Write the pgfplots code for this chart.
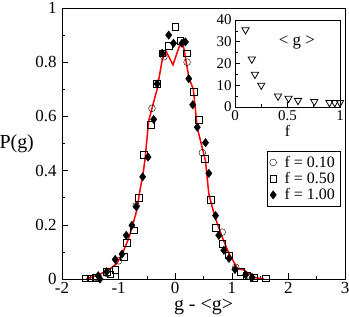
\documentclass[border=0pt]{standalone}
\usepackage{fontspec}
\setmainfont{Liberation Serif}
\usepackage{pgfplots}
\pgfplotsset{compat=1.18}
\begin{document}
\begin{tikzpicture}
\begin{axis}[name=main, scale only axis, width=283bp, height=271bp,
  xmin=-2, xmax=3, ymin=0, ymax=1,
  xtick={-2,-1,0,1,2,3}, minor x tick num=1,
  ytick={0,0.2,0.4,0.6,0.8,1}, minor y tick num=1,
  tick pos=left, tick align=inside,
  major tick length=6bp, minor tick length=3bp,
  axis line style={line width=0.6pt},
  tick style={black, line width=0.6pt},
  /pgf/number format/assume math mode=true,
  ticklabel style={font=\fontsize{17}{19}\selectfont},
  yticklabel style={xshift=-2bp},
  xticklabel style={yshift=0bp},
  xlabel={g - <g>}, ylabel={P(g)},
  label style={font=\fontsize{20}{22}\selectfont},
  ylabel style={rotate=-90, at={(axis description cs:-0.16,0.498)}, anchor=center},
  xlabel style={at={(axis description cs:0.5,-0.103)}, anchor=center},
  legend style={at={(axis description cs:0.982,0.4725)}, anchor=north east, draw=black,
    font=\fontsize{16}{17}\selectfont, row sep=-0.5pt, column sep=6bp, inner sep=3pt},
  legend cell align=left,
]
\addplot[only marks, mark=o, mark size=3.4bp, black] coordinates {
(-1.4,0.006) (-1.2,0.02) (-1.0,0.067) (-0.69,0.27) (-0.41,0.63) (-0.2,0.82)
(0.21,0.80) (0.48,0.466) (0.83,0.173) (1.07,0.043) (1.3,0.012)
};
\addlegendentry{f = 0.10}
\addplot[only marks, mark=square, mark size=3.4bp, black] coordinates {
(-1.59,0.003) (-1.5,0.003) (-1.41,0.006) (-1.21,0.027) (-1.15,0.018) (-1.06,0.033)
(-0.91,0.082) (-0.85,0.133) (-0.74,0.18) (-0.647,0.30) (-0.55,0.46) (-0.43,0.57)
(-0.32,0.72) (-0.23,0.833) (-0.115,0.86) (0.0,0.93) (0.09,0.88) (0.21,0.833)
(0.33,0.69) (0.42,0.589) (0.52,0.445) (0.624,0.292) (0.713,0.19) (0.83,0.13)
(0.95,0.088) (1.16,0.027) (1.27,0.013) (1.39,0.006) (1.6,0.003)
};
\addlegendentry{f = 0.50}
\addplot[only marks, mark=diamond*, mark size=4.2bp, black] coordinates {
(-1.36,0.012) (-1.33,0.0) (-1.21,0.027) (-1.06,0.072) (-0.94,0.092) (-0.865,0.161)
(-0.765,0.198) (-0.688,0.267) (-0.575,0.377) (-0.48,0.45) (-0.38,0.589) (-0.32,0.72)
(-0.23,0.833) (-0.115,0.9) (-0.03,0.87) (0.12,0.87) (0.18,0.875) (0.24,0.739)
(0.31,0.643) (0.39,0.56) (0.535,0.503) (0.594,0.39) (0.713,0.234) (0.77,0.161)
(0.86,0.106) (0.95,0.076) (1.055,0.035) (1.245,0.015) (1.36,0.006)
};
\addlegendentry{f = 1.00}
\addplot[forget plot, red, line width=1.5bp] coordinates {
(-1.57,0.0) (-1.45,0.008) (-1.33,0.018) (-1.2,0.03) (-1.03,0.057) (-0.92,0.1)
(-0.82,0.151) (-0.75,0.2) (-0.68,0.253) (-0.62,0.33) (-0.56,0.40) (-0.53,0.448)
(-0.47,0.582) (-0.41,0.63) (-0.32,0.70) (-0.23,0.808) (-0.16,0.84) (-0.04,0.79)
(0.08,0.863) (0.15,0.855) (0.24,0.745) (0.32,0.70) (0.39,0.558) (0.535,0.436)
(0.594,0.314) (0.7,0.23) (0.83,0.155) (0.95,0.094) (1.1,0.039) (1.214,0.033)
(1.39,0.006) (1.57,0.0)
};
\end{axis}
\begin{axis}[at={(main.south west)}, anchor=south west, xshift=173bp, yshift=172bp,
  scale only axis, width=105bp, height=87bp,
  xmin=0, xmax=1, ymin=0, ymax=40,
  xtick={0,0.5,1}, ytick={0,10,20,30,40},
  minor x tick num=1, minor y tick num=1,
  tick pos=left, tick align=inside,
  major tick length=5bp, minor tick length=2.5bp,
  axis line style={line width=0.6pt},
  tick style={black, line width=0.6pt},
  axis background/.style={fill=white},
  /pgf/number format/assume math mode=true,
  ticklabel style={font=\fontsize{15}{16}\selectfont},
  xlabel={f},
  xlabel style={font=\fontsize{16}{17}\selectfont, at={(axis description cs:0.5,-0.27)}, anchor=center},
]
\addplot[only marks, mark=triangle, mark options={rotate=180}, mark size=4.2bp, black, line width=0.8pt] coordinates {
(0.1,35.5) (0.16,22) (0.19,15) (0.25,10) (0.41,5) (0.51,4) (0.6,3) (0.755,2.5)
(0.9,2) (0.95,2) (1.0,2)
};
\node[font=\fontsize{17}{18}\selectfont] at (axis cs:0.59,29.7) {< g >};
\end{axis}
\pgfresetboundingbox
\path ([shift={(-62bp,-38bp)}]main.south west) rectangle ([shift={(4bp,8bp)}]main.north east);
\end{tikzpicture}
\end{document}
